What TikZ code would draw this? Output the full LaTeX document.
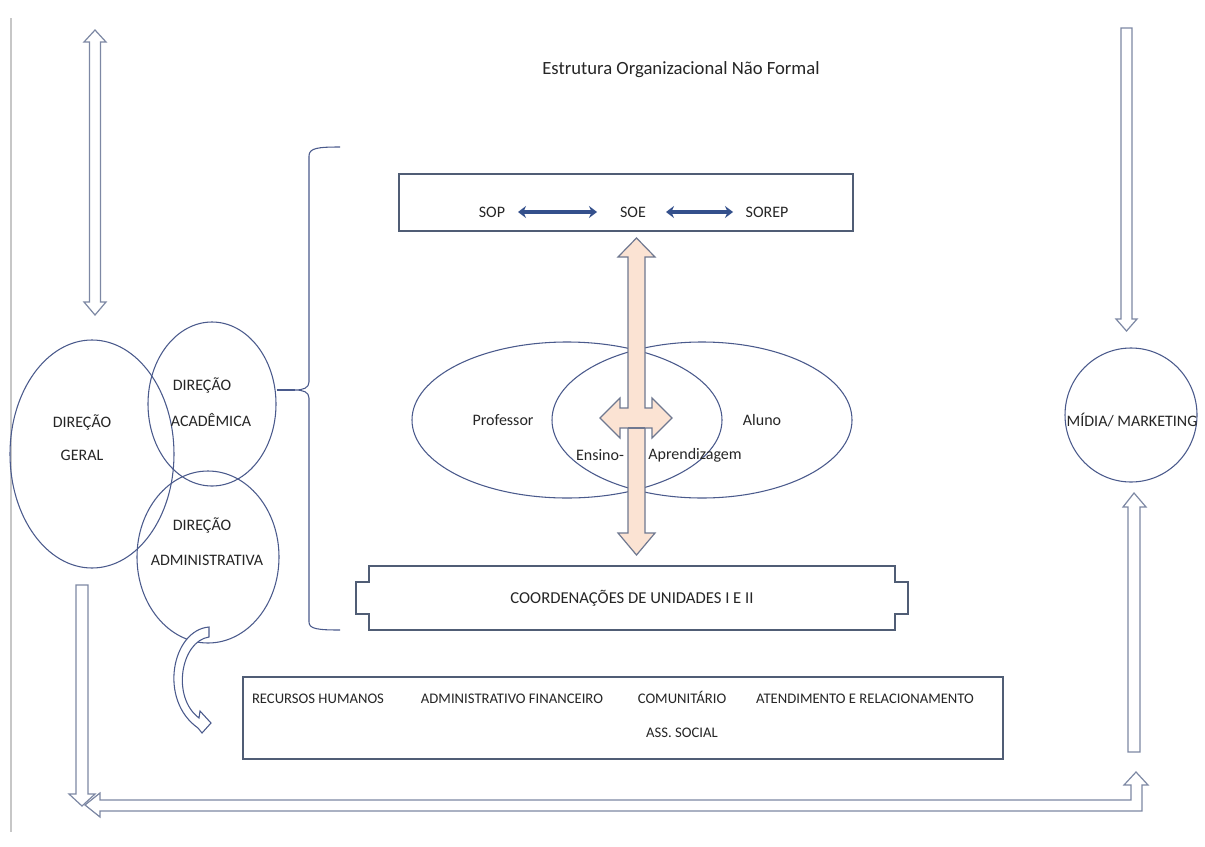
\documentclass[tikz,border=0pt]{standalone}
\usepackage{fontspec}
\setmainfont{Carlito}
\usetikzlibrary{shapes.geometric,arrows.meta}
\definecolor{ellc}{HTML}{4A5A8C}
\definecolor{boxc}{HTML}{505D75}
\definecolor{hollow}{HTML}{7D88A4}
\definecolor{peach}{HTML}{FBE3D3}
\definecolor{peachline}{HTML}{6F7890}
\definecolor{dblue}{HTML}{34508C}
\definecolor{txt}{HTML}{262626}
\begin{document}
\begin{tikzpicture}[x=0.75pt,y=-0.75pt,
  ell/.style={draw=ellc, line width=0.8pt, ellipse, inner sep=0pt},
  boxr/.style={draw=boxc, line width=0.9pt, rectangle, inner sep=0pt},
  lab/.style={font=\fontsize{12}{14}\selectfont, text=txt, inner sep=0pt},
  toplab/.style={font=\fontsize{12}{14}\selectfont, text=txt, inner sep=0pt},
  botlab/.style={font=\fontsize{11}{13}\selectfont, text=txt, inner sep=0pt, anchor=base},
  blockarrow/.style={draw=hollow, line width=0.9pt, fill=white, line join=miter},
  peacharrow/.style={draw=peachline, line width=0.9pt, fill=peach, line join=miter},
  linkarrow/.style={draw=dblue, line width=3pt, {Stealth[length=6pt,width=9pt]}-{Stealth[length=6pt,width=9pt]}}
]
\useasboundingbox (0,0) rectangle (1205,846);
\fill[white] (0,0) rectangle (1205,846);
\draw[black!22, line width=1.2pt] (11,18) -- (11,832);

% title
\node[font=\fontsize{14}{16}\selectfont, text=txt, inner sep=0pt] (title) at (681,70) {Estrutura Organizacional Não Formal};

% left top double hollow arrow
\draw[blockarrow] (95,30) -- (106,42) -- (100.5,42) -- (100.5,302) -- (106,302) -- (95,315)
  -- (84,302) -- (89.5,302) -- (89.5,42) -- (84,42) -- cycle;

% direction ellipses
\node[ell, minimum width=123pt, minimum height=171pt] (geral) at (92,454) {};
\node[ell, minimum width=96pt, minimum height=123pt] (acad) at (212,404) {};
\node[ell, minimum width=106.5pt, minimum height=129pt] (admin) at (208,557) {};
\node[lab] (geralA) at (82,422) {DIREÇÃO};
\node[lab] (geralB) at (82,455) {GERAL};
\node[lab] (acadA) at (202,385) {DIREÇÃO};
\node[lab] (acadB) at (211,420) {ACADÊMICA};
\node[lab] (adminA) at (202,525) {DIREÇÃO};
\node[lab] (adminB) at (207,560) {ADMINISTRATIVA};

% brace
\coordinate (braceTip) at (295,390);
\draw[ellc, line width=0.8pt] (acad.east |- braceTip) -- (braceTip);
\draw[ellc, line width=0.8pt] (340,147) .. controls (318,147) and (309,148) .. (309,156)
  -- (309,382) .. controls (309,388) and (303,390) .. (braceTip)
  .. controls (303,390) and (309,392) .. (309,398)
  -- (309,622) .. controls (309,629) and (318,630) .. (340,630);

% top box
\node[boxr, minimum width=340.5pt, minimum height=42.75pt] (topbox) at (626,202.5) {};
\node[toplab] (sop) at (492,212) {SOP};
\node[toplab] (soe) at (633,212) {SOE};
\node[toplab] (sorep) at (767,212) {SOREP};
\draw[linkarrow] (518,212) -- (597,212);
\draw[linkarrow] (666,212) -- (733,212);

% professor / aluno ellipses
\node[ell, minimum width=232.5pt, minimum height=117pt] (prof) at (567,420) {};
\node[ell, minimum width=225pt, minimum height=117pt] (aluno) at (702,420) {};
\node[lab] (profT) at (503,420) {Professor};
\node[lab] (alunoT) at (762,420) {Aluno};

% peach four-way arrow
\draw[peacharrow] (636.5,238) -- (655,257) -- (645,257) -- (645,408) -- (652,408) -- (652,398)
  -- (672,418) -- (652,438) -- (652,428) -- (645,428) -- (645,533) -- (655,533)
  -- (636.5,555) -- (618,533) -- (628,533) -- (628,428) -- (620,428) -- (620,438)
  -- (600,418) -- (620,398) -- (620,408) -- (628,408) -- (628,257) -- (618,257) -- cycle;
\draw[peachline, line width=0.9pt] (628,428) -- (645,428);
\node[lab] (ensino) at (600,455) {Ensino-};
\node[lab] (aprend) at (695,455) {Aprendizagem};

% coordenacoes plaque
\node[inner sep=0pt, minimum width=394.5pt, minimum height=48pt] (coord) at (632,598) {};
\draw[boxc, line width=0.9pt] (369,566) -- (895,566) -- (895,582) -- (908,582) -- (908,614)
  -- (895,614) -- (895,630) -- (369,630) -- (369,614) -- (356,614) -- (356,582) -- (369,582) -- cycle;
\node[font=\fontsize{12.5}{14}\selectfont, text=txt, inner sep=0pt] (coordT) at (coord) {COORDENAÇÕES DE UNIDADES I E II};

% curved arrow from admin to bottom box
\draw[blockarrow, draw=ellc, line width=0.8pt] (209,627) .. controls (172,630) and (158,700) .. (198,728)
  -- (202,733) -- (211,723) -- (200,711) -- (199,718)
  .. controls (171,697) and (181,641) .. (209,637) -- cycle;

% bottom box
\node[boxr, minimum width=570pt, minimum height=61.5pt] (botbox) at (623,718) {};
\node[botlab] (rh) at (318,703) {RECURSOS HUMANOS};
\node[botlab] (af) at (512,703) {ADMINISTRATIVO FINANCEIRO};
\node[botlab] (com) at (682,703) {COMUNITÁRIO};
\node[botlab] (at) at (865,703) {ATENDIMENTO E RELACIONAMENTO};
\node[botlab] (ass) at (682,737) {ASS. SOCIAL};

% left down arrow
\draw[blockarrow] (76,585) -- (88,585) -- (88,794) -- (95,794) -- (82,806) -- (69,794) -- (76,794) -- cycle;

% bottom bent arrow
\draw[blockarrow] (85,805) -- (100,793) -- (100,800) -- (1131,800) -- (1131,785) -- (1124,785)
  -- (1136,772) -- (1148,785) -- (1142,785) -- (1142,811) -- (100,811) -- (100,817) -- cycle;

% right side
\draw[blockarrow] (1121,28) -- (1132,28) -- (1132,319) -- (1137,319) -- (1126.5,331) -- (1116,319) -- (1121,319) -- cycle;
\node[ell, minimum width=99pt, minimum height=100.5pt] (midia) at (1131,415) {};
\node[lab] (midiaT) at (1132,420) {MÍDIA/ MARKETING};
\draw[blockarrow] (1134,493) -- (1146,507) -- (1140,507) -- (1140,752) -- (1128,752) -- (1128,507) -- (1123,507) -- cycle;
\end{tikzpicture}
\end{document}
